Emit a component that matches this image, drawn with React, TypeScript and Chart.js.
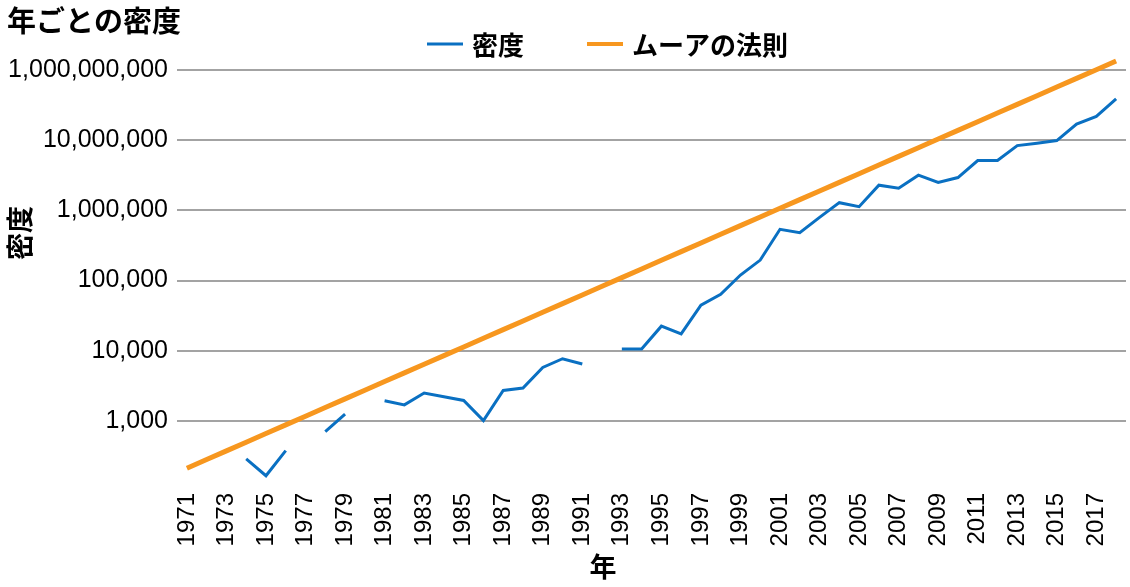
import React, { useEffect, useRef } from 'react';
import { Chart, registerables } from 'chart.js';

Chart.register(...registerables);

const years: string[] = [
  '1971', '1972', '1973', '1974', '1975', '1976', '1977', '1978', '1979', '1980',
  '1981', '1982', '1983', '1984', '1985', '1986', '1987', '1988', '1989', '1990',
  '1991', '1992', '1993', '1994', '1995', '1996', '1997', '1998', '1999', '2000',
  '2001', '2002', '2003', '2004', '2005', '2006', '2007', '2008', '2009', '2010',
  '2011', '2012', '2013', '2014', '2015', '2016', '2017', '2018',
];

const densityValues: (number | null)[] = [
  null, null, null, 287, 165, 377, null, 703, 1247, null,
  1930, 1690, 2490, 2200, 1950, 1010, 2710, 2930, 5770, 7690,
  6460, null, 10600, 10600, 22400, 17400, 44600, 63500, 120000, 196000,
  538000, 482000, 795000, 1290000, 1130000, 2290000, 2070000, 3180000, 2500000, 2940000,
  5150000, 5150000, 8400000, 9100000, 9900000, 17000000, 21900000, 38800000,
];

const mooreValues: number[] = [
  211, 281, 373, 496, 659, 876, 1164, 1547, 2056, 2732,
  3631, 4826, 6412, 8520, 11324, 15049, 20000, 26576, 35318, 46935,
  62373, 82889, 110154, 146387, 194536, 258523, 343558, 456562, 606736, 806308,
  1071519, 1423961, 1892343, 2514784, 3341950, 4441260, 5902010, 7843466, 10423174, 13854000,
  18407720, 24460000, 32508729, 43200000, 57412000, 76300000, 101390000, 134740000,
];

const yTickValues: number[] = [1000, 10000, 100000, 1000000, 10000000, 100000000];
const yTickLabels: string[] = ['1,000', '10,000', '100,000', '1,000,000', '10,000,000', '1,000,000,000'];

const chartTitle = '年ごとの密度';
const xAxisTitle = '年';
const yAxisTitle = '密度';
const seriesNames: string[] = ['密度', 'ムーアの法則'];
const seriesColors: string[] = ['#0A70C2', '#F7971F'];

const CJK = '"Noto Sans CJK JP", "Noto Sans CJK SC", sans-serif';
const LATIN = '"Liberation Sans", Arial, Helvetica, sans-serif';

const legendX = [427, 587];
const legendLineWidths = [3, 4];

const overlayPlugin = {
  id: 'overlayText',
  afterDraw(chart: any) {
    const ctx: CanvasRenderingContext2D = chart.ctx;
    ctx.save();
    ctx.fillStyle = '#000000';
    ctx.textBaseline = 'middle';
    ctx.textAlign = 'left';
    ctx.font = `bold 29px ${CJK}`;
    ctx.fillText(chartTitle, 7, 21);

    chart.data.datasets.forEach((ds: any, i: number) => {
      const x0 = legendX[i];
      ctx.strokeStyle = ds.borderColor;
      ctx.lineWidth = legendLineWidths[i];
      ctx.beginPath();
      ctx.moveTo(x0, 44);
      ctx.lineTo(x0 + 36, 44);
      ctx.stroke();
      ctx.font = `bold 26px ${CJK}`;
      ctx.fillText(ds.label, x0 + 45, 45);
    });

    ctx.textAlign = 'center';
    ctx.font = `bold 27px ${CJK}`;
    ctx.fillText(xAxisTitle, 603, 567);

    ctx.translate(20, 233);
    ctx.rotate(-Math.PI / 2);
    ctx.fillText(yAxisTitle, 0, 0);
    ctx.restore();
  },
};

export default function App() {
  const canvasRef = useRef<HTMLCanvasElement | null>(null);

  useEffect(() => {
    if (!canvasRef.current) return;
    const chart = new Chart(canvasRef.current, {
      type: 'line',
      data: {
        labels: years,
        datasets: [
          {
            label: seriesNames[0],
            data: densityValues,
            borderColor: seriesColors[0],
            backgroundColor: seriesColors[0],
            borderWidth: 3,
            pointRadius: 0,
            pointHoverRadius: 0,
            spanGaps: false,
            tension: 0,
            order: 1,
          },
          {
            label: seriesNames[1],
            data: mooreValues,
            borderColor: seriesColors[1],
            backgroundColor: seriesColors[1],
            borderWidth: 5,
            pointRadius: 0,
            pointHoverRadius: 0,
            tension: 0,
            order: 0,
          },
        ],
      },
      options: {
        responsive: false,
        animation: false,
        layout: { padding: { top: 0, right: 4, bottom: 0, left: 0 } },
        plugins: {
          legend: { display: false },
          title: { display: false },
          tooltip: { enabled: false },
        },
        scales: {
          x: {
            type: 'category',
            offset: true,
            grid: { display: false, drawTicks: false },
            border: { display: false },
            ticks: {
              autoSkip: false,
              maxRotation: 90,
              minRotation: 90,
              padding: 2,
              color: '#000000',
              font: { family: LATIN, size: 24 },
              callback: (_v: any, i: number) => (i % 2 === 0 ? years[i] : ''),
            },
            afterFit: (scale: any) => {
              scale.height = 96;
              scale.paddingLeft = 0;
              scale.paddingRight = 0;
            },
          },
          y: {
            type: 'logarithmic',
            min: 100,
            max: 1000000000,
            grid: { color: '#A3A3A3', lineWidth: 2, drawTicks: false },
            border: { display: false },
            ticks: {
              padding: 9,
              color: '#000000',
              font: { family: LATIN, size: 25 },
              callback: (_v: any, i: number) => yTickLabels[i],
            },
            afterBuildTicks: (scale: any) => {
              scale.ticks = yTickValues.map((v) => ({ value: v }));
            },
            afterFit: (scale: any) => {
              scale.width = 177;
              scale.paddingTop = 0;
              scale.paddingBottom = 0;
            },
          },
        },
      },
      plugins: [overlayPlugin],
    });
    return () => chart.destroy();
  }, []);

  return (
    <div style={{ position: 'fixed', left: 0, top: 0, width: 1130, height: 587, background: '#ffffff' }}>
      <canvas ref={canvasRef} width={1130} height={587} style={{ display: 'block' }} />
    </div>
  );
}
